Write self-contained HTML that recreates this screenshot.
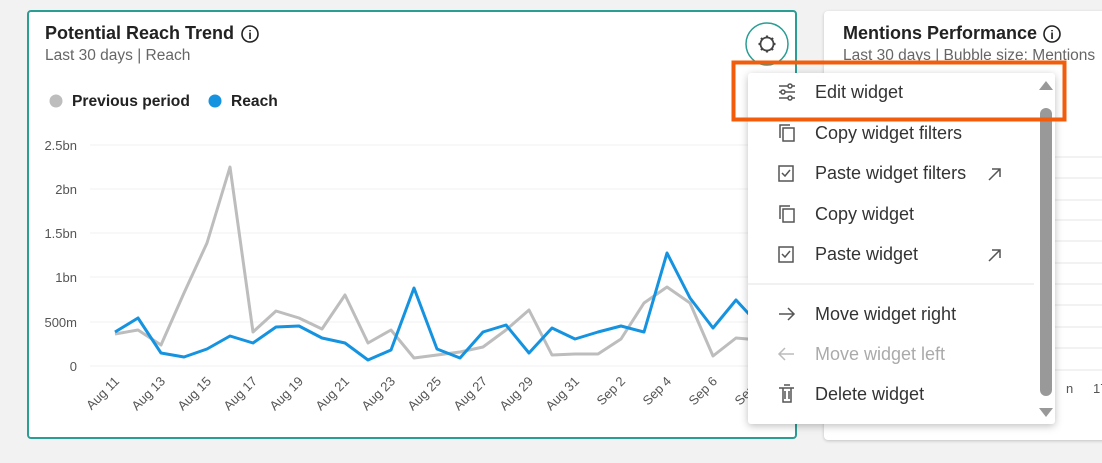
<!DOCTYPE html>
<html><head><meta charset="utf-8"><style>
body{margin:0;width:1102px;height:463px;background:#f2f2f2;font-family:"Liberation Sans",sans-serif;overflow:hidden;position:relative}
.card{position:absolute;background:#fff;border-radius:4px}
</style></head><body>
<div class="card" style="left:27px;top:10px;width:766px;height:425px;border:2px solid #2a9d94"></div>
<div class="card" style="left:824px;top:11px;width:290px;height:429px;box-shadow:0 1px 3px rgba(0,0,0,.2)"></div>
<svg width="1102" height="463" style="position:absolute;left:0;top:0" font-family="Liberation Sans, sans-serif">
<text x="45" y="39" font-size="18" font-weight="bold" fill="#222">Potential Reach Trend</text>
<circle cx="250" cy="34" r="8" fill="none" stroke="#222" stroke-width="1.6"/><text x="250" y="39" font-size="12" font-weight="bold" text-anchor="middle" fill="#222">i</text>
<text x="45" y="60" font-size="15.5" fill="#666">Last 30 days | Reach</text>
<circle cx="56" cy="101" r="6.5" fill="#bdbdbd"/><text x="72" y="106" font-size="15.6" font-weight="bold" fill="#222">Previous period</text>
<circle cx="215" cy="101" r="6.5" fill="#1593e0"/><text x="231" y="106" font-size="15.6" font-weight="bold" fill="#222">Reach</text>
<circle cx="767" cy="44" r="21" fill="#fff" stroke="#2a9d94" stroke-width="1.5"/>
<circle cx="767" cy="44" r="6.5" fill="none" stroke="#444" stroke-width="1.8"/>
<g stroke="#444" stroke-width="2.2"><line x1="767" y1="35.5" x2="767" y2="37.5"/><line x1="767" y1="50.5" x2="767" y2="52.5"/><line x1="758.5" y1="44" x2="760.5" y2="44"/><line x1="773.5" y1="44" x2="775.5" y2="44"/><line x1="761" y1="38" x2="762.5" y2="39.5"/><line x1="771.5" y1="48.5" x2="773" y2="50"/><line x1="773" y1="38" x2="771.5" y2="39.5"/><line x1="761" y1="50" x2="762.5" y2="48.5"/></g>
<g stroke="#f0f0f0" stroke-width="1"><line x1="90" y1="145" x2="790" y2="145"/><line x1="90" y1="189" x2="790" y2="189"/><line x1="90" y1="233" x2="790" y2="233"/><line x1="90" y1="277" x2="790" y2="277"/><line x1="90" y1="322" x2="790" y2="322"/><line x1="90" y1="366" x2="790" y2="366"/></g>
<g font-size="13" fill="#555" text-anchor="end"><text x="77" y="150">2.5bn</text><text x="77" y="194">2bn</text><text x="77" y="238">1.5bn</text><text x="77" y="282">1bn</text><text x="77" y="327">500m</text><text x="77" y="371">0</text></g>
<g font-size="13" fill="#555" text-anchor="end">
<text transform="translate(120,382) rotate(-45)">Aug 11</text><text transform="translate(166,382) rotate(-45)">Aug 13</text><text transform="translate(212,382) rotate(-45)">Aug 15</text><text transform="translate(258,382) rotate(-45)">Aug 17</text><text transform="translate(304,382) rotate(-45)">Aug 19</text><text transform="translate(350,382) rotate(-45)">Aug 21</text><text transform="translate(396,382) rotate(-45)">Aug 23</text><text transform="translate(442,382) rotate(-45)">Aug 25</text><text transform="translate(488,382) rotate(-45)">Aug 27</text><text transform="translate(534,382) rotate(-45)">Aug 29</text><text transform="translate(580,382) rotate(-45)">Aug 31</text><text transform="translate(626,382) rotate(-45)">Sep 2</text><text transform="translate(672,382) rotate(-45)">Sep 4</text><text transform="translate(718,382) rotate(-45)">Sep 6</text><text transform="translate(764,382) rotate(-45)">Sep 8</text></g>
<polyline fill="none" stroke="#bdbdbd" stroke-width="3" stroke-linejoin="round" points="115,334 138,330 161,345 184,293 207,243 230,167 253,332 276,311 299,318 322,329 345,295 368,343 391,330 414,358 437,355 460,352 483,347 506,330 529,310 552,355 575,354 598,354 621,339 644,303 667,287 690,303 713,356 736,338 759,340 782,340"/>
<polyline fill="none" stroke="#1593e0" stroke-width="3" stroke-linejoin="round" points="115,332 138,318 161,353 184,357 207,349 230,336 253,343 276,327 299,326 322,338 345,343 368,360 391,350 414,288 437,349 460,358 483,332 506,325 529,353 552,328 575,339 598,332 621,326 644,332 667,253 690,298 713,328 736,300 759,325 782,325"/>
<text x="843" y="39" font-size="18" font-weight="bold" fill="#222">Mentions Performance</text>
<circle cx="1052" cy="34" r="8" fill="none" stroke="#222" stroke-width="1.6"/><text x="1052" y="39" font-size="12" font-weight="bold" text-anchor="middle" fill="#222">i</text>
<text x="843" y="60" font-size="15.5" fill="#666">Last 30 days | Bubble size: Mentions</text>
<g stroke="#e6e6e6"><line x1="1055" y1="157" x2="1102" y2="157"/><line x1="1055" y1="178" x2="1102" y2="178"/><line x1="1055" y1="200" x2="1102" y2="200"/><line x1="1055" y1="220" x2="1102" y2="220"/><line x1="1055" y1="241" x2="1102" y2="241"/><line x1="1055" y1="263" x2="1102" y2="263"/><line x1="1055" y1="284" x2="1102" y2="284"/><line x1="1055" y1="305" x2="1102" y2="305"/><line x1="1055" y1="327" x2="1102" y2="327"/><line x1="1055" y1="348" x2="1102" y2="348"/><line x1="1055" y1="370" x2="1102" y2="370"/></g>
<text x="1066" y="393" font-size="13" fill="#555">n</text><text x="1093" y="393" font-size="13" fill="#555">17</text>
<rect x="748" y="73" width="307" height="351" rx="3" fill="#fff" style="filter:drop-shadow(0 2px 4px rgba(0,0,0,.25))"/>
<rect x="1040" y="108" width="12" height="288" rx="6" fill="#999"/>
<polygon points="1039,90 1053,90 1046,81" fill="#999"/><polygon points="1039,408 1053,408 1046,417" fill="#999"/>
<line x1="748" y1="284" x2="1034" y2="284" stroke="#e3e3e3"/>
<g font-size="18" fill="#333"><text x="815" y="98">Edit widget</text><text x="815" y="139">Copy widget filters</text><text x="815" y="179">Paste widget filters</text><text x="815" y="220">Copy widget</text><text x="815" y="260">Paste widget</text><text x="815" y="320">Move widget right</text><text x="815" y="360" fill="#aaa">Move widget left</text><text x="815" y="400">Delete widget</text></g>
<g fill="none" stroke="#555" stroke-width="1.5">
<line x1="779" y1="86" x2="795" y2="86"/><line x1="779" y1="92" x2="795" y2="92"/><line x1="779" y1="98" x2="795" y2="98"/><circle cx="790" cy="86" r="2" fill="#fff"/><circle cx="783" cy="92" r="2" fill="#fff"/><circle cx="790" cy="98" r="2" fill="#fff"/>
<rect x="783" y="128" width="11" height="13"/><path d="M780 138V125h10"/>
<rect x="779" y="166" width="14" height="15"/><path d="M782 173l3 3 5-6"/>
<rect x="783" y="209" width="11" height="13"/><path d="M780 219V206h10"/>
<rect x="779" y="247" width="14" height="15"/><path d="M782 254l3 3 5-6"/>
<path d="M989 180l11-11M992 169h8v8"/><path d="M989 261l11-11M992 250h8v8"/>
<path d="M779 314h15M788 308l6 6-6 6"/>
<path d="M779 354h15M785 348l-6 6 6 6" stroke="#bbb"/>
<path d="M779 388h15M783 388v14h8v-14M784 385h6M785 391v8M789 391v8"/>
</g>
<rect x="733.5" y="62.5" width="331" height="57" fill="none" stroke="#f25c0a" stroke-width="4"/>
</svg>
</body></html>
